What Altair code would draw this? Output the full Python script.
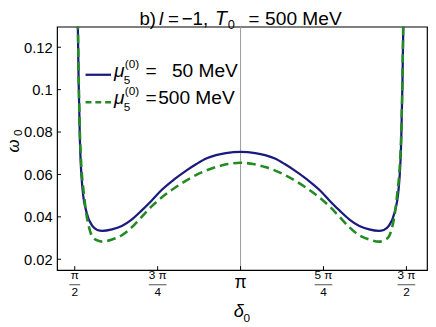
import math
import altair as alt
import pandas as pd

PI = math.pi

# curve data
blue_delta = [1.5958, 1.6079, 1.6200, 1.6451, 1.6823, 1.7381, 1.7846, 1.8310, 1.9240, 2.0169,
              2.1099, 2.2028, 2.2958, 2.3887, 2.5095, 2.6304, 2.7233, 2.8163, 2.9092, 3.0022,
              3.1416,
              3.2810, 3.3740, 3.4669, 3.5599, 3.6528, 3.7737, 3.8945, 3.9874, 4.0804, 4.1733,
              4.2663, 4.3592, 4.4522, 4.4986, 4.5451, 4.6009, 4.6381, 4.6632, 4.6753, 4.6874]
blue_omega = [0.1455, 0.1038, 0.0760, 0.0529, 0.0422, 0.0357, 0.0338, 0.0334, 0.0341, 0.0357,
              0.0387, 0.0429, 0.0475, 0.0524, 0.0575, 0.0619, 0.0649, 0.0675, 0.0691, 0.0701,
              0.0707,
              0.0701, 0.0691, 0.0675, 0.0649, 0.0619, 0.0575, 0.0524, 0.0475, 0.0429, 0.0387,
              0.0357, 0.0341, 0.0334, 0.0338, 0.0357, 0.0422, 0.0529, 0.0760, 0.1038, 0.1455]
green_delta = [1.5970, 1.6091, 1.6219, 1.6637, 1.7102, 1.7381, 1.7846, 1.8310, 1.9240, 2.0169,
               2.1099, 2.2028, 2.2958, 2.3887, 2.5374, 2.7233, 2.9092, 3.0208, 3.1416,
               3.2624, 3.3740, 3.5599, 3.7458, 3.8945, 3.9874, 4.0804, 4.1733, 4.2663, 4.3592,
               4.4522, 4.4986, 4.5451, 4.5730, 4.6195, 4.6613, 4.6741, 4.6862]
green_omega = [0.1455, 0.1038, 0.0760, 0.0482, 0.0343, 0.0306, 0.0289, 0.0283, 0.0293, 0.0313,
               0.0350, 0.0399, 0.0448, 0.0489, 0.0543, 0.0598, 0.0635, 0.0649, 0.0655,
               0.0649, 0.0635, 0.0598, 0.0543, 0.0489, 0.0448, 0.0399, 0.0350, 0.0313, 0.0293,
               0.0283, 0.0289, 0.0306, 0.0343, 0.0482, 0.0760, 0.1038, 0.1455]

x_ticks = [PI / 2, 3 * PI / 4, PI, 5 * PI / 4, 3 * PI / 2]
x_num = ["π", "3 π", "", "5 π", "3 π"]
x_den = ["2", "4", "", "4", "2"]
x_bar = [11, 18, 0, 18, 18]
x_main = ["", "", "π", "", ""]
y_ticks = [0.02, 0.04, 0.06, 0.08, 0.10, 0.12]
vline = [PI]

BLUE = "#1b1b7e"
GREEN = "#228b22"
FONT = "Liberation Sans"
W, H = 377, 248

xs = alt.Scale(domain=[1.4035, 4.9076], nice=False, zero=False)
ys = alt.Scale(domain=[0.0149, 0.1297], nice=False, zero=False)
YAX = alt.Axis(values=y_ticks, format=".2~f", ticks=False, domain=False, grid=False, title=None,
               labelFont=FONT, labelFontSize=15, labelColor="black", labelPadding=5)
one = pd.DataFrame({"k": [0]})

vl = alt.Chart(pd.DataFrame({"d": vline})).mark_rule(color="#9a9a9a", strokeWidth=1).encode(
    x=alt.X("d:Q", scale=xs, axis=None))

blue = alt.Chart(pd.DataFrame({"d": blue_delta, "w": blue_omega})).mark_line(
    color=BLUE, strokeWidth=2.3, interpolate="monotone", clip=True).encode(
    x=alt.X("d:Q", scale=xs, axis=None),
    y=alt.Y("w:Q", scale=ys, axis=YAX))

green = alt.Chart(pd.DataFrame({"d": green_delta, "w": green_omega})).mark_line(
    color=GREEN, strokeWidth=2.6, strokeDash=[9, 5], interpolate="monotone", clip=True).encode(
    x=alt.X("d:Q", scale=xs, axis=None),
    y=alt.Y("w:Q", scale=ys, axis=YAX))

yt = alt.Chart(pd.DataFrame({"v": y_ticks})).mark_rule(color="black").encode(
    y=alt.Y("v:Q", scale=ys, axis=YAX), x=alt.value(0), x2=alt.value(4))
xt = alt.Chart(pd.DataFrame({"v": x_ticks})).mark_rule(color="black").encode(
    x=alt.X("v:Q", scale=xs, axis=None), y=alt.value(H), y2=alt.value(H - 4))

lab = pd.DataFrame({"v": x_ticks, "num": x_num, "den": x_den, "bar": x_bar, "main": x_main})
frac = lab[lab["num"] != ""]
mainl = lab[lab["main"] != ""]

numt = alt.Chart(frac).mark_text(font=FONT, fontSize=12, baseline="middle", color="black").encode(
    x=alt.X("v:Q", scale=xs, axis=None), y=alt.value(253.5), text="num:N")
dent = alt.Chart(frac).mark_text(font=FONT, fontSize=12, baseline="middle", color="black").encode(
    x=alt.X("v:Q", scale=xs, axis=None), y=alt.value(270), text="den:N")
bart = alt.Chart(frac).mark_tick(orient="horizontal", color="black", thickness=1).encode(
    x=alt.X("v:Q", scale=xs, axis=None), y=alt.value(263), size=alt.Size("bar:Q", scale=None))
maint = alt.Chart(mainl).mark_text(font=FONT, fontSize=18, baseline="middle", color="black").encode(
    x=alt.X("v:Q", scale=xs, axis=None), y=alt.value(261), text="main:N")


def txt(s, x, y, size=19, style="normal", align="left", baseline="alphabetic", angle=0):
    return alt.Chart(one).mark_text(text=s, font=FONT, fontSize=size, fontStyle=style, align=align,
                                    baseline=baseline, angle=angle, color="black").encode(
        x=alt.value(x), y=alt.value(y))


# title pieces
TB = -2
title = [
    txt("b)", 84, TB), txt("l", 104, TB, style="italic"), txt("=", 113, TB), txt("−1,", 127, TB),
    txt("T", 161, TB, size=20, style="italic"), txt("0", 174, TB + 4, size=13), txt("=", 195, TB),
    txt("500 MeV", 212, TB, size=19.5),
]
# axis titles
axt = [
    txt("δ", 180, 296, style="italic", size=18.5), txt("0", 190, 301, size=12),
    txt("ω", -39, 121.5, style="italic", size=17, align="center", angle=270),
    txt("0", -35.5, 108, size=12, align="center", angle=270),
]

# legend
leg_blue = alt.Chart(one).mark_rule(color=BLUE, strokeWidth=2.3).encode(
    x=alt.value(29), x2=alt.value(55), y=alt.value(49))
leg_green = alt.Chart(one).mark_rule(color=GREEN, strokeWidth=2.6, strokeDash=[6, 4]).encode(
    x=alt.value(29), x2=alt.value(55), y=alt.value(77))
leg = [leg_blue, leg_green]
for dy, val, vx in [(0, "50 MeV", 117), (28, "500 MeV", 103)]:
    leg += [
        txt("μ", 58, 51 + dy, size=19.5, style="italic"),
        txt("5", 68, 58 + dy, size=12),
        txt("(0)", 69, 42 + dy, size=12),
        txt("=", 90, 51 + dy, size=19.5),
        txt(val, vx, 51 + dy, size=19.5),
    ]

chart = alt.layer(vl, blue, green, yt, xt, numt, dent, bart, maint, *title, *axt, *leg).properties(
    width=W, height=H,
    autosize=alt.AutoSizeParams(type="none"),
    padding={"left": 50, "top": 16, "right": 1, "bottom": 55},
).configure_view(stroke="black", strokeWidth=1.2)

chart.save("out.html", embed_options={"renderer": "svg", "actions": False})
